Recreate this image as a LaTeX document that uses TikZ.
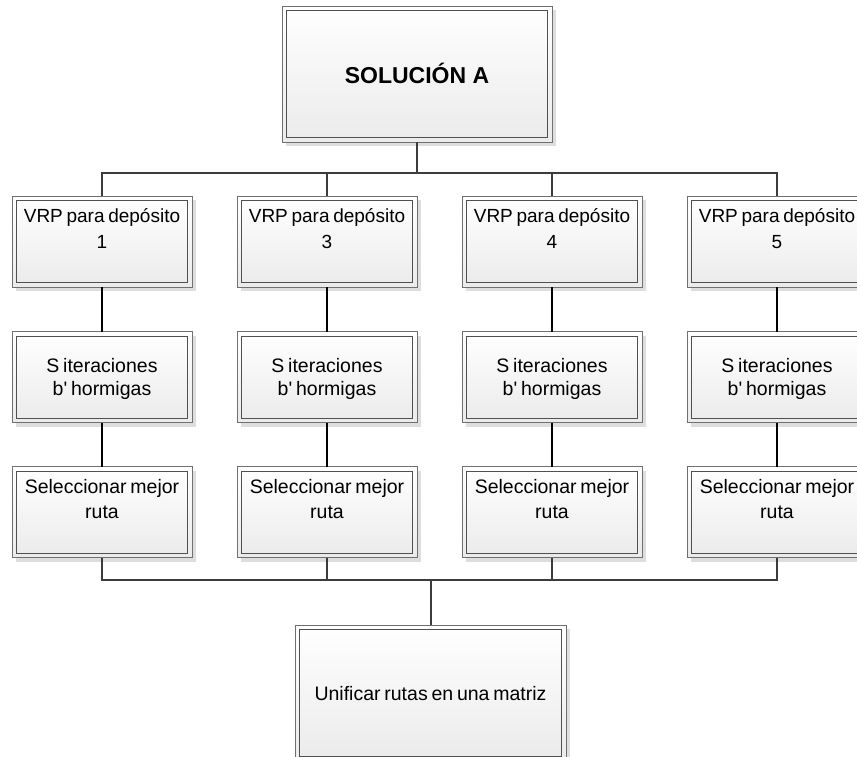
\documentclass[tikz,border=0pt]{standalone}
\usepackage{fontspec}
\setmainfont{Liberation Sans}
\newfontfamily\lblfont[WordSpace=0.7]{Liberation Sans}
\usetikzlibrary{shadows,calc}
\definecolor{edgegray}{HTML}{3C3C3C}
\definecolor{outerline}{HTML}{707070}
\definecolor{innerline}{HTML}{505050}
\tikzset{
  box/.style={rectangle, draw=outerline, line width=0.9pt, inner sep=0pt, outer sep=0pt,
    top color=white, bottom color=black!8,
    drop shadow={shadow xshift=4pt, shadow yshift=-4pt, fill=black!13, opacity=1},
    path picture={\draw[innerline, line width=1pt]
      ([shift={(4.5pt,-4.5pt)}]path picture bounding box.north west) rectangle
      ([shift={(-4.5pt,4.5pt)}]path picture bounding box.south east);}},
  small/.style={box, minimum width=180pt, minimum height=91pt},
  big/.style={box, minimum width=270pt, minimum height=136pt},
  % anchor=base sits on the baseline of the last line
  lbl/.style={inner sep=0pt, align=center, anchor=base},
  trunk/.style={draw=edgegray, line width=2pt},
  link/.style={draw=black, line width=1.3pt},
}
\begin{document}
\begin{tikzpicture}[x=1pt, y=-1pt]
  \path[use as bounding box, clip] (0,0) rectangle (857,756);

  % root of the tree
  \node[big] (sol) at (417,74) {};
  \node[lbl, font=\fontsize{23}{28}\selectfont\bfseries] (solT) at (417,83) {SOLUCIÓN A};
  \coordinate (hubT) at (417,173);

  % one branch per depot
  \foreach \x/\n [count=\i] in {102/1,327/3,552/4,777/5} {
    \node[small] (dep\i) at (\x,241.5) {};
    \node[lbl, font=\lblfont\fontsize{19}{26}\selectfont] (depT\i) at (\x,248) {VRP para depósito\\\n};
    \node[small] (ite\i) at (\x,377) {};
    \node[lbl, font=\lblfont\fontsize{19.5}{23}\selectfont] (iteT\i) at (\x,395) {S iteraciones\\b' hormigas};
    \node[small] (sel\i) at (\x,512) {};
    \node[lbl, font=\lblfont\fontsize{19.5}{25}\selectfont] (selT\i) at (\x,518) {Seleccionar mejor\\ruta};
  }

  % merge box
  \node[big, minimum width=271pt] (uni) at (430.5,693) {};
  \node[lbl, font=\lblfont\fontsize{19.5}{24}\selectfont] (uniT) at (430.5,700) {Unificar rutas en una matriz};
  \coordinate (hubB) at (430.5,580);

  % connectors
  \draw[trunk] (sol.south) -- (hubT);
  \foreach \i in {1,...,4} {
    \draw[trunk] (hubT) -| (dep\i.north);
    \draw[link] (dep\i.south) -- (ite\i.north);
    \draw[link] (ite\i.south) -- (sel\i.north);
    \draw[trunk] (sel\i.south) |- (hubB);
  }
  \draw[trunk] (hubB) -- (uni.north);
\end{tikzpicture}
\end{document}
